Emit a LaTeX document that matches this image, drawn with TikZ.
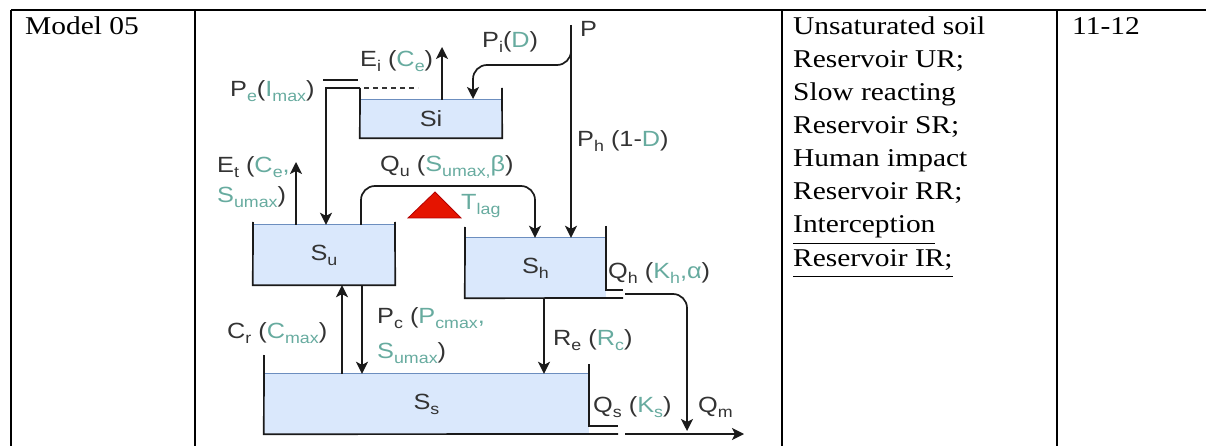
\documentclass[tikz,border=0pt]{standalone}
\usepackage{fontspec}
\setmainfont{Liberation Serif}[FakeStretch=1.15]
\newfontfamily\dsf{Liberation Sans}[FakeStretch=1.15]
\usetikzlibrary{arrows.meta}
\definecolor{ink}{HTML}{333333}
\definecolor{par}{HTML}{67AB9F}
\definecolor{waterfill}{HTML}{DAE8FC}
\definecolor{waterline}{HTML}{6C8EBF}
\definecolor{trifill}{HTML}{E51400}
\definecolor{tridraw}{HTML}{B20000}
\definecolor{flowc}{HTML}{1A1A1A}
\newcommand{\lo}[1]{\raisebox{-5pt}{\fontsize{15.5}{16}\selectfont #1}}
\newcommand{\pp}[1]{\textcolor{par}{#1}}
\newsavebox{\ulbox}
\newcommand{\myul}[1]{\sbox{\ulbox}{#1}\rlap{\rule[-11pt]{\wd\ulbox}{1.4pt}}\usebox{\ulbox}}
\begin{document}
\begin{tikzpicture}[x=1pt,y=-1pt,
  gridline/.style={line width=2pt, draw=black},
  cell/.style={font=\fontsize{25.6}{33}\selectfont, anchor=base west, inner sep=0pt, text=black},
  lab/.style={font=\dsf\fontsize{22}{26}\selectfont, anchor=base west, inner sep=0pt, text=ink},
  water/.style={fill=waterfill, draw=none, inner sep=0pt, font=\dsf\fontsize{22}{26}\selectfont, text=ink},
  wall/.style={line width=1.7pt, draw=flowc},
  level/.style={line width=1.3pt, draw=waterline},
  flow/.style={line width=1.7pt, draw=flowc, -{Stealth[length=12pt,width=12pt,inset=3pt]}, rounded corners=14pt},
]
\useasboundingbox (0,0) rectangle (1206,446);
% table grid
\draw[gridline] (11,10) -- (1206,10);
\foreach \x in {11,195,782,1057} \draw[gridline] (\x,10) -- (\x,446);
% table cells
\node[cell] (model) at (25,35) {Model 05};
\node[cell] (num) at (1072,35) {11-12};
\node[cell] (t1) at (793,35) {Unsaturated soil};
\node[cell] (t2) at (793,68) {Reservoir UR;};
\node[cell] (t3) at (793,101) {Slow reacting};
\node[cell] (t4) at (793,134) {Reservoir SR;};
\node[cell] (t5) at (793,167) {Human impact};
\node[cell] (t6) at (793,200) {Reservoir RR;};
\node[cell] (t7) at (793,233) {\myul{Interception}};
\node[cell] (t8) at (793,266) {\myul{Reservoir IR;}};
% reservoirs (water)
\node[water, minimum width=142pt, minimum height=38pt] (Si) at (431,119) {Si};
\node[water, minimum width=142pt, minimum height=60pt] (Su) at (324,255) {S\lo{u}};
\node[water, minimum width=141pt, minimum height=60pt] (Sh) at (535.5,268) {S\lo{h}};
\node[water, minimum width=325pt, minimum height=60pt] (Ss) at (426.5,404) {S\lo{s}};
\foreach \r in {Si,Su,Sh,Ss} \draw[level] (\r.north west) -- (\r.north east);
% walls
\draw[wall] (360,88) -- (Si.south west) -- (Si.south east) -- (502,88);
\draw[wall] (253,222) -- (Su.south west) -- (Su.south east) -- (395,222);
\draw[wall] (465,227) -- (Sh.south west) -- (623,298);
\draw[wall] (606,226) -- (606,290) -- (623,290);
\draw[wall] (264,355) -- (Ss.south west) -- (618,434);
\draw[wall] (589,364) -- (589,426) -- (618,426);
% interception outlet pipe
\draw[wall] (323,80) -- (358,80);
\draw[line width=1.3pt, draw=ink, dash pattern=on 5pt off 4pt] (364,88) -- (418,88);
% coordinates
\coordinate (pe) at (360,88);
\coordinate (peturn) at (326,88);
\coordinate (ei) at (442,47);
\coordinate (P) at (571,25);
\coordinate (pisrc) at (571,50);
\coordinate (et) at (296,162);
\coordinate (qu) at (361,186);
\coordinate (qud) at (535,186);
\coordinate (cr) at (342,0);
\coordinate (pc) at (362,0);
\coordinate (re) at (544,0);
\coordinate (qhout) at (625,294);
\coordinate (qhturn) at (687,294);
\coordinate (qmtip) at (687,431);
\coordinate (qmstart) at (625,434);
\coordinate (qmend) at (744,434);
% flows
\draw[flow, rounded corners=0pt] (pe) -- (peturn) -- (peturn |- Su.north);
\draw[flow] (ei |- Si.north) -- (ei);
\draw[flow] (P) -- (P |- Sh.north);
\draw[flow] (pisrc) -- (571,65) -- (473,65) -- (473,99);
\draw[flow] (et |- Su.north) -- (et);
\draw[flow] (qu |- Su.north) -- (qu) -- (qud) -- (qud |- Sh.north);
\draw[flow] (cr |- Ss.north) -- (cr |- Su.south);
\draw[flow] (pc |- Su.south) -- (pc |- Ss.north);
\draw[flow] (re |- Sh.south) -- (re |- Ss.north);
\draw[flow] (qhout) -- (qhturn) -- (qmtip);
\draw[flow] (qmstart) -- (qmend);
% lag triangle
\filldraw[fill=trifill, draw=tridraw, line width=0.8pt] (408,218) -- (435,192) -- (461,218) -- cycle;
% labels
\node[lab] (lEi) at (360,67) {E\lo{i} (\pp{C\lo{e}})};
\node[lab] (lPe) at (230,97) {P\lo{\pp{e}}(\pp{I\lo{max}})};
\node[lab] (lPi) at (482,48) {P\lo{i}(\pp{D})};
\node[lab] (lP) at (580,37) {P};
\node[lab] (lPh) at (577,147) {P\lo{h} (1-\pp{D})};
\node[lab] (lEt) at (217,173) {E\lo{t} (\pp{C\lo{e},}};
\node[lab] (lEt2) at (217,203) {\pp{S\lo{umax}})};
\node[lab] (lQu) at (380,172) {Q\lo{u} (\pp{S\lo{umax,}β})};
\node[lab] (lT) at (461,210) {\pp{T\lo{lag}}};
\node[lab] (lQh) at (608,278) {Q\lo{h} (\pp{K\lo{h},α})};
\node[lab] (lCr) at (227,338) {C\lo{r} (\pp{C\lo{max}})};
\node[lab] (lPc) at (377,323) {P\lo{c} (\pp{P\lo{cmax},}};
\node[lab] (lPc2) at (377,358) {\pp{S\lo{umax}})};
\node[lab] (lRe) at (553,345) {R\lo{e} (\pp{R\lo{c}})};
\node[lab] (lQs) at (593,412) {Q\lo{s} (\pp{K\lo{s}})};
\node[lab] (lQm) at (698,412) {Q\lo{m}};
\end{tikzpicture}
\end{document}
